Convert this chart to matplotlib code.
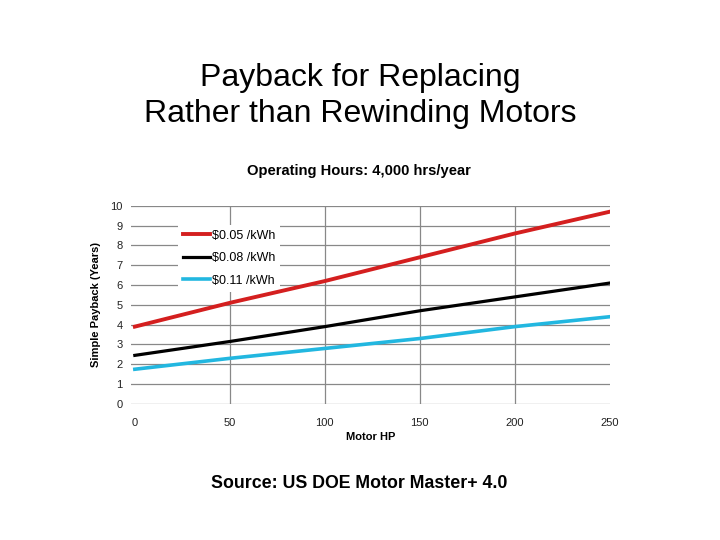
import matplotlib
matplotlib.use("Agg")
import matplotlib.pyplot as plt

plt.rcParams['font.family'] = ['Liberation Sans', 'DejaVu Sans']

motor_hp = [0, 50, 100, 150, 200, 250]
payback_005 = [3.9, 5.1, 6.2, 7.4, 8.6, 9.7]
payback_008 = [2.45, 3.15, 3.9, 4.7, 5.4, 6.1]
payback_011 = [1.75, 2.3, 2.8, 3.3, 3.9, 4.4]
labels = ["$0.05 /kWh", "$0.08 /kWh", "$0.11 /kWh"]
x_ticks = [0, 50, 100, 150, 200, 250]
y_ticks = list(range(0, 11))

fig = plt.figure(figsize=(7.2, 5.4), dpi=100)
fig.text(0.5, 0.822, "Payback for Replacing\nRather than Rewinding Motors",
         ha='center', va='center', fontsize=23, linespacing=1.27)
fig.text(359 / 720, 1 - 484 / 540, "Source: US DOE Motor Master+ 4.0",
         ha='center', va='center', fontsize=12.8, fontweight='bold')
fig.text(359 / 720, 1 - 171 / 540, "Operating Hours: 4,000 hrs/year",
         ha='center', va='center', fontsize=10.6, fontweight='bold')

ax = fig.add_axes([0.182, 0.252, 0.665, 0.367])
ax.plot(motor_hp, payback_005, color='#d41f1f', lw=2.8, label=labels[0], zorder=3)
ax.plot(motor_hp, payback_008, color='#000000', lw=2.3, label=labels[1], zorder=3)
ax.plot(motor_hp, payback_011, color='#22b7e0', lw=2.6, label=labels[2], zorder=3)

ax.set_xlim(-2, 250)
ax.set_ylim(0, 10)
ax.set_xticks(x_ticks)
ax.set_yticks(y_ticks)
ax.grid(True, axis='y', color='#888888', lw=0.9)
ax.vlines(x_ticks[1:-1], 0, 10, color='#888888', lw=0.9, zorder=0.5)
ax.set_axisbelow(True)
for s in ax.spines.values():
    s.set_visible(False)
ax.tick_params(length=0, labelsize=8, labelcolor='#222222')
ax.tick_params(axis='x', pad=10)
ax.tick_params(axis='y', pad=6)
ax.set_xlabel("Motor HP", fontsize=8, fontweight='bold', labelpad=3)
ax.set_ylabel("Simple Payback (Years)", fontsize=8, fontweight='bold', labelpad=7)

leg = ax.legend(loc='upper left', bbox_to_anchor=(0.085, 0.935), frameon=True,
                fontsize=9, handlelength=2.2, handletextpad=0.1, labelspacing=0.83,
                borderpad=0.4, fancybox=False)
leg.get_frame().set_edgecolor('none')
leg.get_frame().set_facecolor('white')
leg.get_frame().set_alpha(1)
leg.set_zorder(2)

fig.savefig("out.png", dpi=100)
